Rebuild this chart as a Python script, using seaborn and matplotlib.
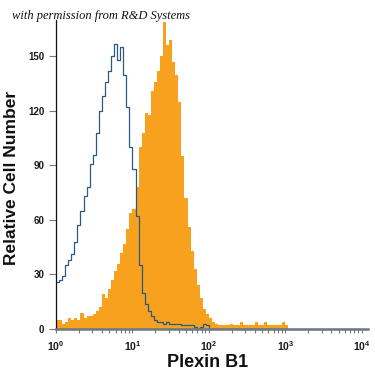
import numpy as np
import pandas as pd
import seaborn as sns
import matplotlib.pyplot as plt

# Flow cytometry histograms, 100 channels spread over 4 log decades (10^0 .. 10^4)
n_channels = 100
n_decades = 4

# Plexin B1 stained cells (filled orange), counts per channel
plexin_counts = [5, 5, 3, 4, 6, 5, 6, 5, 9, 6,
                 7, 7, 8, 10, 12, 19, 17, 22, 27, 32,
                 36, 42, 47, 55, 64, 66, 78, 100, 108, 119,
                 118, 131, 136, 142, 150, 169, 156, 159, 147, 140,
                 125, 95, 72, 56, 43, 33, 24, 17, 11, 8,
                 6, 4, 3, 2, 2, 2, 2, 3, 2, 2,
                 4, 2, 2, 2, 2, 4, 2, 2, 4, 2,
                 2, 2, 2, 2, 4, 2, 0]

# isotype control (open blue line)
isotype_counts = [26, 27, 29, 35, 38, 41, 48, 57, 65, 73,
                  78, 91, 96, 108, 120, 128, 136, 142, 150, 157,
                  148, 155, 140, 122, 100, 88, 62, 35, 20, 14,
                  10, 7, 5, 4, 4, 3, 4, 3, 3, 3,
                  3, 2, 2, 2, 2, 1, 0, 1, 3, 2,
                  0]

y_ticks = [0, 30, 60, 90, 120, 150]
x_decades = [0, 1, 2, 3, 4]

edges = np.linspace(0, n_decades, n_channels + 1)
centers = (edges[:-1] + edges[1:]) / 2
bin_list = edges.tolist()  # seaborn compares bins to "auto", so hand it a plain list

df_plexin = pd.DataFrame({"log_fl": centers[:len(plexin_counts)], "count": plexin_counts})
df_iso = pd.DataFrame({"log_fl": centers[:len(isotype_counts)], "count": isotype_counts})

sns.set_style("ticks")
plt.rcParams["font.family"] = ["Liberation Sans", "DejaVu Sans"]
plt.rcParams["mathtext.default"] = "regular"

fig = plt.figure(figsize=(3.75, 3.75), dpi=100)
ax = fig.add_axes([56 / 375, 1 - 329 / 375, 312 / 375, 309 / 375])

sns.histplot(data=df_plexin, x="log_fl", weights="count", bins=bin_list,
             element="step", fill=True, color="#f7a11f", alpha=1, linewidth=0, ax=ax)
sns.histplot(data=df_iso, x="log_fl", weights="count", bins=bin_list,
             element="step", fill=False, color="#2b5a80", linewidth=0.9, ax=ax)

ax.set_xlim(0, 4.08)
ax.set_ylim(0, 170)

# log-style ticks
ax.set_xticks(x_decades)
ax.set_xticklabels([r"$10^{%d}$" % d for d in x_decades])
minor = [d + np.log10(k) for d in x_decades[:-1] for k in range(2, 10)]
ax.set_xticks(minor, minor=True)
ax.set_yticks(y_ticks)

for s in ["top", "right"]:
    ax.spines[s].set_visible(False)
ax.spines["left"].set_color("#111111")
ax.spines["left"].set_linewidth(0.9)
ax.spines["bottom"].set_color("#6b7884")
ax.spines["bottom"].set_linewidth(1.8)

ax.tick_params(axis="y", length=5, width=0.8, color="#777777", pad=3.5,
               labelsize=7, labelcolor="#1a1a1a")
ax.tick_params(axis="x", which="both", length=3, width=0.8, color="#777777",
               pad=4, labelsize=7.5, labelcolor="#1a1a1a")
for lab in ax.get_yticklabels() + ax.get_xticklabels():
    lab.set_fontweight("bold")

ax.set_xlabel("Plexin B1", fontsize=13, fontweight="bold", color="#111111")
ax.set_ylabel("Relative Cell Number", fontsize=12.5, fontweight="bold", color="#111111")
ax.xaxis.set_label_coords(0.485, -0.082)
ax.yaxis.set_label_coords(-0.12, 0.49)

fig.text(12 / 375, 1 - 19 / 375, "with permission from R&D Systems",
         fontsize=9, style="italic", family="Liberation Serif", color="#111111",
         va="baseline")

fig.savefig("out.png", dpi=100)
